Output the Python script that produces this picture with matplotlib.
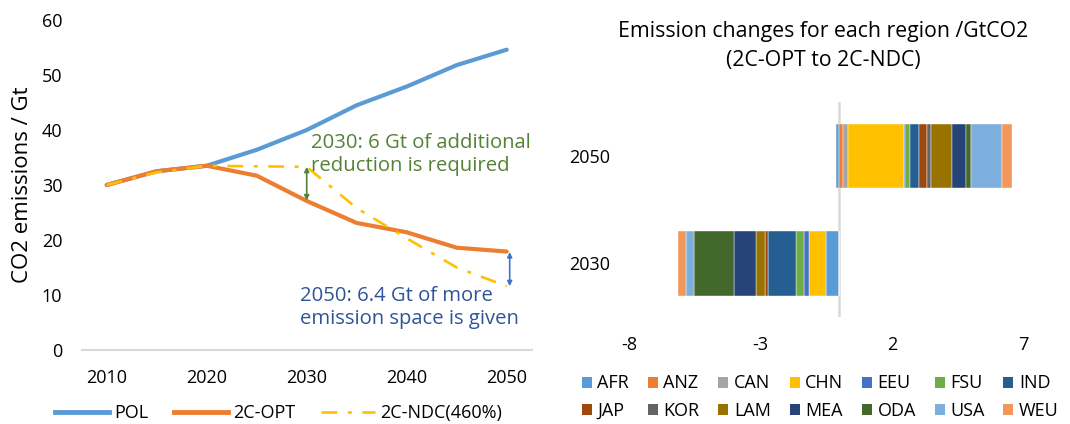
import matplotlib
matplotlib.use("Agg")
import matplotlib.pyplot as plt
import numpy as np
from matplotlib.patches import Patch
from matplotlib.lines import Line2D

plt.rcParams['font.family'] = ['Open Sans', 'DejaVu Sans']
plt.rcParams['axes.unicode_minus'] = False

# ---------------- data ----------------
years = [2010, 2015, 2020, 2025, 2030, 2035, 2040, 2045, 2050]
pol = [30.0, 32.5, 33.5, 36.4, 40.0, 44.5, 47.9, 51.8, 54.6]
opt = [30.0, 32.5, 33.5, 31.7, 27.1, 23.1, 21.4, 18.6, 17.9]
ndc = [30.0, 32.3, 33.5, 33.4, 33.3, 25.8, 20.3, 15.0, 11.6]
series_names = ['POL', '2C-OPT', '2C-NDC(460%)']
x_ticks = [2010, 2020, 2030, 2040, 2050]
y_ticks = [0, 10, 20, 30, 40, 50, 60]

regions = ['AFR', 'ANZ', 'CAN', 'CHN', 'EEU', 'FSU', 'IND',
           'JAP', 'KOR', 'LAM', 'MEA', 'ODA', 'USA', 'WEU']
bar_years = ['2030', '2050']
chg_2030 = [-0.50, 0.0, 0.0, -0.67, -0.18, -0.32, -1.05,
            -0.13, 0.0, -0.32, -0.83, -1.52, -0.32, -0.32]
chg_2050 = [-0.12, 0.14, 0.19, 2.13, 0.03, 0.20, 0.34,
            0.29, 0.15, 0.80, 0.56, 0.16, 1.21, 0.38]
bar_xticks = [-8, -3, 2, 7]

region_colors = ['#5B9BD5', '#ED7D31', '#A5A5A5', '#FFC000', '#4472C4', '#70AD47', '#255E91',
                 '#9E480E', '#636363', '#997300', '#264478', '#43682B', '#7CAFDD', '#F1975A']
line_colors = ['#5B9BD5', '#ED7D31', '#FFC000']

FS = 13
W, H = 1070, 424
fig = plt.figure(figsize=(W / 100, H / 100), dpi=100)

def fx(px):
    return px / W

def fy(py):
    return 1 - py / H

# ---------------- left: line chart ----------------
axL = fig.add_axes([fx(81.7), fy(350), fx(531.7) - fx(81.7), fy(20) - fy(350)])
axL.plot(years, pol, color=line_colors[0], lw=3.0, solid_capstyle='round', label=series_names[0])
axL.plot(years, opt, color=line_colors[1], lw=3.0, solid_capstyle='round', label=series_names[1])
axL.plot(years, ndc, color=line_colors[2], lw=1.9, dashes=(6, 4, 1.5, 4), label=series_names[2])
axL.set_xlim(2007.5, 2052.5)
axL.set_ylim(0, 60)
axL.set_xticks(x_ticks)
axL.set_yticks(y_ticks)
for s in ['top', 'right', 'left']:
    axL.spines[s].set_visible(False)
axL.spines['bottom'].set_color('#D9D9D9')
axL.spines['bottom'].set_linewidth(1.5)
axL.tick_params(axis='both', length=0, labelsize=FS, colors='#000000')
axL.tick_params(axis='x', pad=14)
axL.tick_params(axis='y', pad=14)
axL.set_ylabel('CO2 emissions / Gt', fontsize=16, labelpad=6)

# annotations
axL.annotate('', xy=(2030, 27.2), xytext=(2030, 33.3),
             arrowprops=dict(arrowstyle='<|-|>', color='#548235', lw=1.2,
                             mutation_scale=7, shrinkA=0, shrinkB=0))
axL.annotate('', xy=(2050.3, 11.6), xytext=(2050.3, 17.8),
             arrowprops=dict(arrowstyle='<|-|>', color='#4472C4', lw=1.2,
                             mutation_scale=7, shrinkA=0, shrinkB=0))
axL.text(2030.4, 39.4, '2030: 6 Gt of additional\nreduction is required',
         color='#548235', fontsize=14.6, va='top', ha='left', linespacing=1.2)
axL.text(2029.3, 11.6, '2050: 6.4 Gt of more\nemission space is given',
         color='#2F5597', fontsize=14.6, va='top', ha='left', linespacing=1.2)

handlesL = [Line2D([], [], color=line_colors[0], lw=3.5),
            Line2D([], [], color=line_colors[1], lw=3.5),
            Line2D([], [], color=line_colors[2], lw=1.9, dashes=(6, 4, 1.5, 4))]
fig.legend(handlesL, series_names, loc='center left', bbox_to_anchor=(fx(55), fy(413)),
           ncol=3, frameon=False, fontsize=FS, handlelength=3.0, handletextpad=0.3,
           columnspacing=1.4, borderaxespad=0, borderpad=0)

# ---------------- right: stacked bar chart ----------------
axR = fig.add_axes([fx(629.3), fy(317), fx(1023.3) - fx(629.3), fy(102.3) - fy(317)])
data = np.array([chg_2030, chg_2050])
ypos = np.arange(len(bar_years))
pos_left = np.zeros(len(bar_years))
neg_left = np.zeros(len(bar_years))
for i, reg in enumerate(regions):
    vals = data[:, i]
    lefts = np.where(vals >= 0, pos_left, neg_left)
    axR.barh(ypos, vals, left=lefts, height=0.6, color=region_colors[i],
             edgecolor='white', linewidth=0.3, label=reg, zorder=3)
    pos_left += np.where(vals >= 0, vals, 0)
    neg_left += np.where(vals < 0, vals, 0)
axR.axvline(0, color='#D9D9D9', lw=1.8, zorder=2)
axR.set_xlim(-8, 7)
axR.set_ylim(-0.5, 1.5)
axR.set_xticks(bar_xticks)
axR.set_yticks(ypos)
axR.set_yticklabels(bar_years)
for s in axR.spines.values():
    s.set_visible(False)
axR.tick_params(axis='both', length=0, labelsize=FS)
axR.tick_params(axis='x', pad=14)
axR.tick_params(axis='y', pad=14)

fig.text(fx(823), fy(46), 'Emission changes for each region /GtCO2\n(2C-OPT to 2C-NDC)',
         ha='center', va='center', fontsize=15.3, linespacing=1.45)

# legend in row-major order (matplotlib fills columns first)
ncol = 7
order = [r * ncol + c for c in range(ncol) for r in range(2)]
handlesR = [Patch(facecolor=region_colors[k], edgecolor='none') for k in order]
labelsR = [regions[k] for k in order]
fig.legend(handlesR, labelsR, loc='center left', bbox_to_anchor=(fx(582), fy(397)),
           ncol=ncol, frameon=False, fontsize=FS, handlelength=0.55, handleheight=0.55,
           handletextpad=0.3, columnspacing=1.05, labelspacing=0.5,
           borderaxespad=0, borderpad=0)

fig.savefig('out.png', dpi=100)
